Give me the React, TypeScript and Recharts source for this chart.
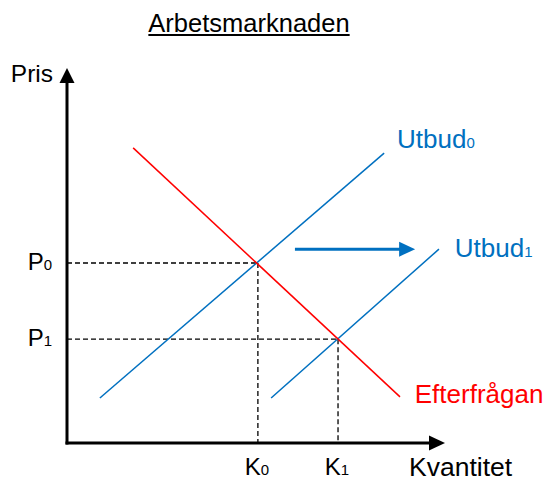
import React from 'react';
import { ComposedChart, XAxis, YAxis, Line, ReferenceLine, ReferenceDot } from 'recharts';

const FONT = '"Liberation Sans", Arial, Helvetica, sans-serif';
const BLUE = '#0070C0';
const RED = '#FF0000';

// text
const title = 'Arbetsmarknaden';
const yAxisName = 'Pris';
const xAxisName = 'Kvantitet';

// curves (quantity q, price p)
const demand = [
  { q: 1.75, p: 7.87 },
  { q: 8.81, p: 1.23 },
];
const supply0 = [
  { q: 0.87, p: 1.2 },
  { q: 8.39, p: 7.73 },
];
const supply1 = [
  { q: 5.4, p: 1.2 },
  { q: 9.84, p: 5.17 },
];

// shift arrow
const shiftShaft = [
  { q: 6.03, p: 5.17 },
  { q: 8.85, p: 5.17 },
];
const shiftTip = { q: 9.21, p: 5.17 };

// equilibria
const eqQuantities = [5.05, 7.17];
const eqPrices = [4.8, 2.77];
const eqSubscripts = ['0', '1'];

// series labels
const labelNames = ['Utbud', 'Utbud', 'Efterfrågan'];
const labelSubs = ['0', '1', ''];
const labelQ = [8.73, 10.26, 9.2];
const labelP = [7.87, 4.96, 1.07];
const labelColors = [BLUE, BLUE, RED];

const AXIS_MAX = 10;

const UpHead = (props: any) => {
  const { cx, cy } = props;
  return <polygon points={`${cx},${cy} ${cx - 7.5},${cy + 15} ${cx + 7.5},${cy + 15}`} fill="#000" />;
};
const RightHead = (color: string) => (props: any) => {
  const { cx, cy } = props;
  return <polygon points={`${cx},${cy} ${cx - 16},${cy - 7.5} ${cx - 16},${cy + 7.5}`} fill={color} />;
};

export default function App() {
  return (
    <div style={{ position: 'absolute', left: 0, top: 0, width: 548, height: 481, background: '#fff', overflow: 'hidden' }}>
      <div
        style={{
          position: 'absolute',
          left: 0,
          top: 9,
          width: 498,
          textAlign: 'center',
          fontFamily: FONT,
          fontSize: 25.5,
          textDecoration: 'underline',
          color: '#000',
          lineHeight: 'normal',
        }}
      >
        {title}
      </div>
      <ComposedChart
        width={548}
        height={481}
        margin={{ top: 68, right: 103, bottom: 38, left: 67 }}
        style={{ position: 'absolute', left: 0, top: 0 }}
      >
        <XAxis type="number" dataKey="q" domain={[0, AXIS_MAX]} hide />
        <YAxis type="number" dataKey="p" domain={[0, AXIS_MAX]} hide />

        {eqQuantities.map((q, i) => (
          <ReferenceLine
            key={'h' + i}
            segment={[{ x: 0, y: eqPrices[i] }, { x: q, y: eqPrices[i] }]}
            stroke="#000"
            strokeWidth={1.3}
            strokeDasharray="5 3"
          />
        ))}
        {eqQuantities.map((q, i) => (
          <ReferenceLine
            key={'v' + i}
            segment={[{ x: q, y: eqPrices[i] }, { x: q, y: 0 }]}
            stroke="#000"
            strokeWidth={1.3}
            strokeDasharray="5 3"
          />
        ))}

        <Line data={supply0} dataKey="p" type="linear" stroke={BLUE} strokeWidth={1.5} dot={false} activeDot={false} isAnimationActive={false} />
        <Line data={supply1} dataKey="p" type="linear" stroke={BLUE} strokeWidth={1.5} dot={false} activeDot={false} isAnimationActive={false} />
        <Line data={demand} dataKey="p" type="linear" stroke={RED} strokeWidth={1.5} dot={false} activeDot={false} isAnimationActive={false} />
        <Line data={shiftShaft} dataKey="p" type="linear" stroke={BLUE} strokeWidth={3} dot={false} activeDot={false} isAnimationActive={false} />
        <ReferenceDot x={shiftTip.q} y={shiftTip.p} r={1} ifOverflow="visible" shape={RightHead(BLUE)} />

        {/* axes */}
        <ReferenceLine segment={[{ x: 0, y: 0 }, { x: 0, y: 9.8 }]} stroke="#000" strokeWidth={3} strokeLinecap="square" ifOverflow="visible" />
        <ReferenceLine segment={[{ x: 0, y: 0 }, { x: 9.8, y: 0 }]} stroke="#000" strokeWidth={3} strokeLinecap="square" ifOverflow="visible" />
        <ReferenceDot x={0} y={AXIS_MAX} r={1} ifOverflow="visible" shape={UpHead} />
        <ReferenceDot x={AXIS_MAX} y={0} r={1} ifOverflow="visible" shape={RightHead('#000')} />

        <ReferenceDot
          x={0}
          y={AXIS_MAX}
          r={1}
          ifOverflow="visible"
          shape={(p: any) => (
            <text x={p.cx - 14} y={p.cy + 14} textAnchor="end" fontFamily={FONT} fontSize={24.5} fill="#000">
              {yAxisName}
            </text>
          )}
        />
        <ReferenceDot
          x={AXIS_MAX}
          y={0}
          r={1}
          ifOverflow="visible"
          shape={(p: any) => (
            <text x={p.cx - 36} y={p.cy + 33} textAnchor="start" fontFamily={FONT} fontSize={26.5} fill="#000">
              {xAxisName}
            </text>
          )}
        />

        {eqPrices.map((pr, i) => (
          <ReferenceDot
            key={'pl' + i}
            x={0}
            y={pr}
            r={1}
            ifOverflow="visible"
            shape={(p: any) => (
              <text x={p.cx - 15} y={p.cy + 7} textAnchor="end" fontFamily={FONT} fontSize={24} fill="#000">
                P<tspan fontSize={15}>{eqSubscripts[i]}</tspan>
              </text>
            )}
          />
        ))}
        {eqQuantities.map((q, i) => (
          <ReferenceDot
            key={'kl' + i}
            x={q}
            y={0}
            r={1}
            ifOverflow="visible"
            shape={(p: any) => (
              <text x={p.cx - 1} y={p.cy + 32} textAnchor="middle" fontFamily={FONT} fontSize={24} fill="#000">
                K<tspan fontSize={15}>{eqSubscripts[i]}</tspan>
              </text>
            )}
          />
        ))}

        {labelNames.map((name, i) => (
          <ReferenceDot
            key={'sl' + i}
            x={labelQ[i]}
            y={labelP[i]}
            r={1}
            ifOverflow="visible"
            shape={(p: any) => (
              <text x={p.cx} y={p.cy} textAnchor="start" fontFamily={FONT} fontSize={26} fill={labelColors[i]}>
                {name}
                {labelSubs[i] ? <tspan fontSize={15}>{labelSubs[i]}</tspan> : null}
              </text>
            )}
          />
        ))}
      </ComposedChart>
    </div>
  );
}
